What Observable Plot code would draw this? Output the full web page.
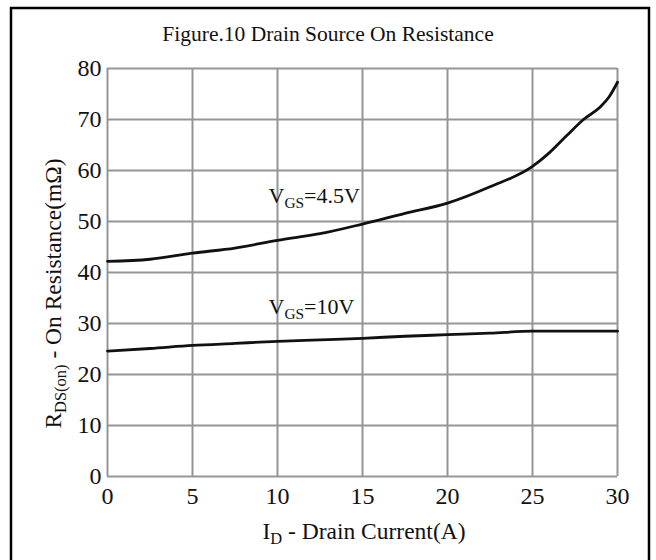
<!DOCTYPE html>
<html>
<head>
<meta charset="utf-8">
<script src="https://cdn.jsdelivr.net/npm/d3@7"></script>
<script src="https://cdn.jsdelivr.net/npm/@observablehq/plot@0.6"></script>
<style>
  html, body { margin: 0; padding: 0; background: white; }
  #chart svg { display: block; }
</style>
</head>
<body>
<div id="chart"></div>
<script>
// ---- data ----
const titleText = "Figure.10 Drain Source On Resistance";
const xTicks = [0, 5, 10, 15, 20, 25, 30];
const yTicks = [0, 10, 20, 30, 40, 50, 60, 70, 80];

const current45 = [0, 2.5, 5, 7.5, 10, 12.5, 15, 17.5, 20, 22.5, 25, 26, 27, 28, 29, 29.5, 30];
const res45     = [42.2, 42.6, 43.8, 44.8, 46.3, 47.6, 49.5, 51.6, 53.6, 56.8, 60.8, 63.5, 66.8, 70.0, 72.5, 74.4, 77.3];

const current10 = [0, 2.5, 5, 7.5, 10, 12.5, 15, 17.5, 20, 22.5, 25, 27.5, 30];
const res10     = [24.6, 25.1, 25.7, 26.1, 26.5, 26.8, 27.1, 27.5, 27.8, 28.1, 28.5, 28.5, 28.5];

const seriesNames = ["4.5V", "10V"];
const labelX = [9.5, 9.5];
const labelY = [53.5, 31.8];

const data = [
  ...current45.map((x, i) => ({x, y: res45[i], s: seriesNames[0]})),
  ...current10.map((x, i) => ({x, y: res10[i], s: seriesNames[1]}))
];

const FONT = "'Liberation Serif', 'Times New Roman', serif";
const W = 656, H = 560;

const plot = Plot.plot({
  width: W,
  height: H,
  marginLeft: 107,
  marginRight: 39,
  marginTop: 68,
  marginBottom: 84,
  style: { fontFamily: FONT, fontSize: "24px", background: "white", color: "black" },
  x: { domain: [0, 30], ticks: xTicks, label: null },
  y: { domain: [0, 80], ticks: yTicks, label: null },
  marks: [
    Plot.gridX(xTicks, { stroke: "#959595", strokeOpacity: 1, strokeWidth: 2 }),
    Plot.gridY(yTicks, { stroke: "#959595", strokeOpacity: 1, strokeWidth: 2 }),
    Plot.line(data, { x: "x", y: "y", z: "s", stroke: "#111", strokeWidth: 2.8, curve: "monotone-x" }),
    Plot.axisX(xTicks, { tickSize: 0, tickPadding: 10, fontSize: 24, fill: "#111" }),
    Plot.axisY(yTicks, { tickSize: 0, tickPadding: 6, fontSize: 24, fill: "#111" })
  ]
});

document.getElementById("chart").appendChild(plot);

const svg = d3.select(plot);
const sx = plot.scale("x"), sy = plot.scale("y");

// outer frame
svg.append("rect")
  .attr("x", 11).attr("y", 8)
  .attr("width", 638).attr("height", 560)
  .attr("fill", "none").attr("stroke", "#000").attr("stroke-width", 2.5);

// title
svg.append("text")
  .attr("x", 328).attr("y", 41)
  .attr("text-anchor", "middle")
  .attr("font-family", FONT).attr("font-size", 21.5).attr("fill", "#111")
  .text(titleText);

function richText(sel, parts) {
  let shifted = false;
  parts.forEach(([t, sub]) => {
    const ts = sel.append("tspan").text(t);
    if (sub) { ts.attr("font-size", "70%").attr("dy", 5); shifted = true; }
    else if (shifted) { ts.attr("dy", -5); shifted = false; }
  });
}

// x axis label
const xl = svg.append("text")
  .attr("x", (sx.range[0] + sx.range[1]) / 2 + 2).attr("y", 539)
  .attr("text-anchor", "middle")
  .attr("font-family", FONT).attr("font-size", 23.5).attr("fill", "#111");
richText(xl, [["I", false], ["D", true], [" - Drain Current(A)", false]]);

// y axis label
const yl = svg.append("text")
  .attr("transform", "translate(61,293.5) rotate(-90)")
  .attr("text-anchor", "middle")
  .attr("font-family", FONT).attr("font-size", 23.5).attr("fill", "#111");
richText(yl, [["R", false], ["DS(on)", true], [" - On Resistance(m\u03A9)", false]]);

// curve labels
seriesNames.forEach((name, i) => {
  const t = svg.append("text")
    .attr("x", sx.apply(labelX[i])).attr("y", sy.apply(labelY[i]))
    .attr("text-anchor", "start")
    .attr("font-family", FONT).attr("font-size", 22).attr("fill", "#111");
  richText(t, [["V", false], ["GS", true], ["=" + name, false]]);
});
</script>
</body>
</html>
